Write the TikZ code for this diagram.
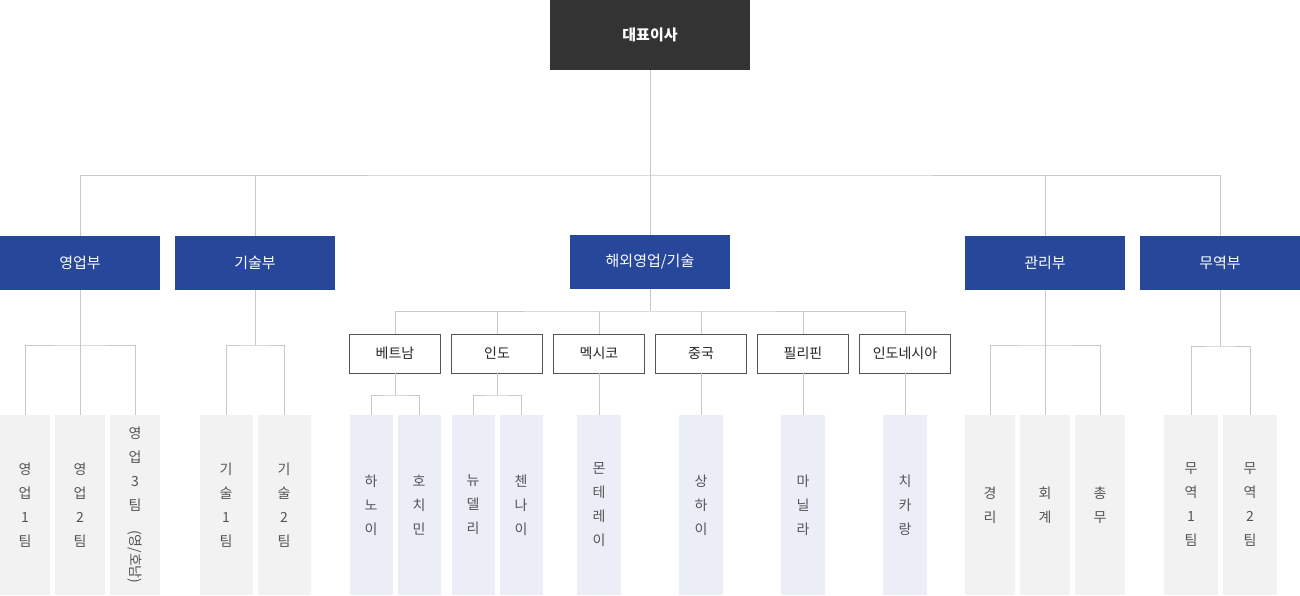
\documentclass[tikz,border=0pt]{standalone}
\usepackage{fontspec}
\setmainfont{Noto Sans CJK KR}
\usepackage{graphicx}
\usetikzlibrary{positioning}
\definecolor{ceogray}{HTML}{333333}
\definecolor{deptblue}{HTML}{27479A}
\definecolor{teamgray}{HTML}{F2F2F2}
\definecolor{teamblue}{HTML}{ECEEF7}
\definecolor{linegray}{HTML}{C8C8C8}
\definecolor{textgray}{HTML}{555555}

\tikzset{
  ceo/.style={fill=ceogray, text=white, font=\fontsize{15}{18}\selectfont\bfseries, minimum width=200pt, minimum height=70pt, inner sep=0pt},
  dept/.style={fill=deptblue, text=white, font=\fontsize{15}{18}\selectfont, minimum width=160pt, minimum height=54pt, inner sep=0pt},
  country/.style={draw=textgray, line width=0.8pt, fill=white, text=black!85, font=\fontsize{14}{17}\selectfont, minimum width=91pt, minimum height=39pt, inner sep=0pt},
  team/.style={fill=teamgray, text=textgray, font=\fontsize{14}{24}\selectfont, align=center, minimum height=180pt, inner sep=0pt},
  local/.style={team, fill=teamblue},
  link/.style={draw=linegray, line width=0.8pt}
}

\begin{document}
\begin{tikzpicture}[x=1pt, y=-1pt]
    \useasboundingbox (0,0) rectangle (1300,595);

    % 대표
    \node[ceo] (ceo) at (650,35) {대표이사};

    % 부서
    \node[dept] (sales) at (80,263) {영업부};
    \node[dept] (tech) at (255,263) {기술부};
    \node[dept] (global) at (650,262) {해외영업/기술};
    \node[dept] (admin) at (1045,263) {관리부};
    \node[dept] (trade) at (1220,263) {무역부};

    \coordinate (ceojoin) at (650,175);
    \draw[link] (ceo.south) -- (global.north);
    \draw[link] (sales.north) |- (ceojoin) -| (trade.north);
    \draw[link] (tech.north) -- (tech.north |- ceojoin);
    \draw[link] (admin.north) -- (admin.north |- ceojoin);

    % 영업부 팀
    \node[team, minimum width=50pt] (sales1) at (25,505) {영\\업\\1\\팀};
    \node[team, minimum width=50pt] (sales2) at (80,505) {영\\업\\2\\팀};
    \node[team, minimum width=50pt] (sales3) at (135,505) {영\\업\\3\\팀\\[-4pt]\rotatebox{-90}{(영/호남)}};
    \coordinate (salesjoin) at (80,345);
    \draw[link] (sales.south) -- (sales2.north);
    \draw[link] (sales1.north) |- (salesjoin) -| (sales3.north);

    % 기술부 팀
    \node[team, minimum width=53pt] (tech1) at (226,505) {기\\술\\1\\팀};
    \node[team, minimum width=53pt] (tech2) at (284,505) {기\\술\\2\\팀};
    \coordinate (techjoin) at (255,345);
    \draw[link] (tech.south) -- (techjoin);
    \draw[link] (tech1.north) |- (techjoin) -| (tech2.north);

    % 해외 지사
    \foreach \name/\x/\label in {vn/395/베트남, in/497/인도, mx/599/멕시코, cn/701/중국, ph/803/필리핀, id/905/인도네시아}
        \node[country] (\name) at (\x,353.5) {\label};
    \coordinate (globaljoin) at (650,311);
    \draw[link] (global.south) -- (globaljoin);
    \draw[link] (vn.north) |- (globaljoin) -| (id.north);
    \foreach \name in {in, mx, cn, ph}
        \draw[link] (\name.north) -- (\name.north |- globaljoin);

    % 지사 도시
    \node[local, minimum width=43pt] (hanoi) at (371,505) {하\\노\\이};
    \node[local, minimum width=43pt] (hcm) at (419,505) {호\\치\\민};
    \node[local, minimum width=43pt] (delhi) at (473,505) {뉴\\델\\리};
    \node[local, minimum width=43pt] (chennai) at (521,505) {첸\\나\\이};
    \node[local, minimum width=44pt] (monterrey) at (599,505) {몬\\테\\레\\이};
    \node[local, minimum width=44pt] (shanghai) at (701,505) {상\\하\\이};
    \node[local, minimum width=44pt] (manila) at (803,505) {마\\닐\\라};
    \node[local, minimum width=44pt] (cikarang) at (905,505) {치\\카\\랑};
    \coordinate (vnjoin) at (395,395);
    \coordinate (injoin) at (497,395);
    \draw[link] (vn.south) -- (vnjoin);
    \draw[link] (hanoi.north) |- (vnjoin) -| (hcm.north);
    \draw[link] (in.south) -- (injoin);
    \draw[link] (delhi.north) |- (injoin) -| (chennai.north);
    \draw[link] (mx.south) -- (monterrey.north);
    \draw[link] (cn.south) -- (shanghai.north);
    \draw[link] (ph.south) -- (manila.north);
    \draw[link] (id.south) -- (cikarang.north);

    % 관리부 팀
    \node[team, minimum width=50pt] (acct1) at (990,505) {경\\리};
    \node[team, minimum width=50pt] (acct2) at (1045,505) {회\\계};
    \node[team, minimum width=50pt] (general) at (1100,505) {총\\무};
    \coordinate (adminjoin) at (1045,345);
    \draw[link] (admin.south) -- (acct2.north);
    \draw[link] (acct1.north) |- (adminjoin) -| (general.north);

    % 무역부 팀
    \node[team, minimum width=54pt] (trade1) at (1191,505) {무\\역\\1\\팀};
    \node[team, minimum width=54pt] (trade2) at (1250,505) {무\\역\\2\\팀};
    \coordinate (tradejoin) at (1220,346);
    \draw[link] (trade.south) -- (tradejoin);
    \draw[link] (trade1.north) |- (tradejoin) -| (trade2.north);
\end{tikzpicture}
\end{document}
